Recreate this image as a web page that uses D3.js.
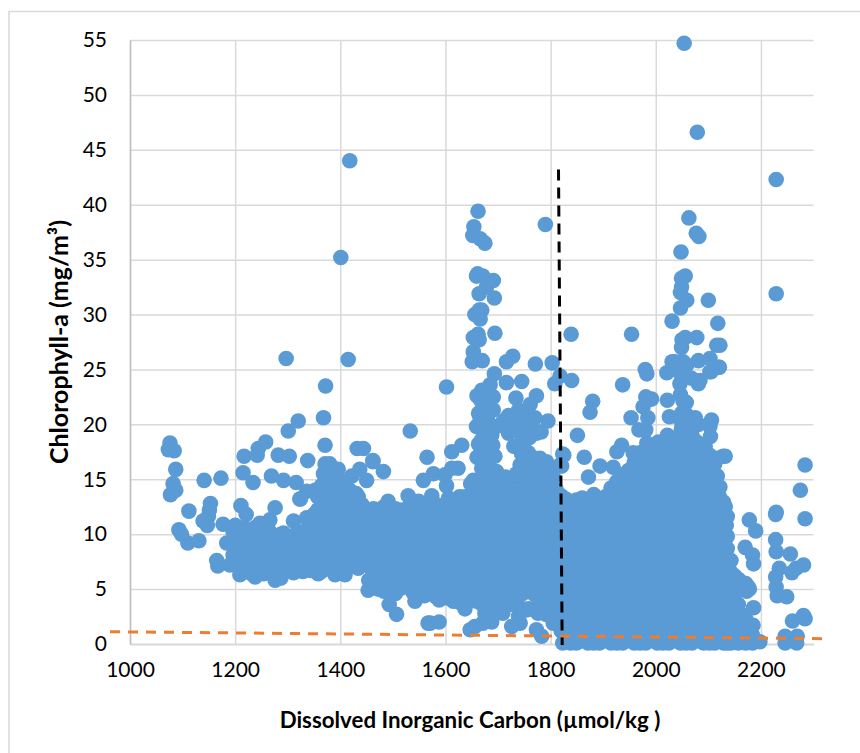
<!DOCTYPE html>
<html>
<head>
<meta charset="utf-8">
<script src="https://cdn.jsdelivr.net/npm/d3@7"></script>
<style>
  html, body { margin: 0; padding: 0; background: #fff; overflow: hidden; }
  text { font-family: Lato, "Open Sans", sans-serif; fill: #000; }
  .tick text { font-size: 21px; }
  .axis-label { font-weight: 700; }
  .grid .domain { stroke: #bfbfbf; stroke-width: 1.5; }
  .grid .tick line { stroke: #d9d9d9; stroke-width: 1.5; }
</style>
</head>
<body>
<div id="chart"></div>
<script>
// tick labels
const X_TICKS = [1000, 1200, 1400, 1600, 1800, 2000, 2200];
const Y_TICKS = [0, 5, 10, 15, 20, 25, 30, 35, 40, 45, 50, 55];

// reference lines
const TREND_LINE = [[962, 1.12], [2320, 0.48]];
const THRESHOLD_LINE = [[1815, 43.2], [1822, -0.1]];

// isolated points, upper part of the plot
const upperPoints = [
  [2054, 54.7], [2079, 46.6], [2229, 42.3], [2063, 38.8], [2077, 37.4], [2082, 37.1], [2048, 35.7],
  [2056, 33.5], [2049, 33.3], [2049, 32.5], [2047, 32], [2059, 31.3], [2047, 30.6], [2100, 31.3],
  [2229, 31.9], [2031, 29.4], [2118, 29.2], [2050, 27.7], [2056, 27.9], [2078, 27.9], [2049, 27],
  [2122, 27.2], [2116, 27.2], [2031, 25.7], [2052, 25.7], [2081, 25.8], [2103, 26], [2120, 25.2],
  [2103, 24.8], [2021, 24.7], [2046, 24.7], [2068, 24.2], [2084, 24], [1980, 25], [1983, 24.6],
  [1954, 28.2], [1839, 28.2], [1790, 38.2], [1662, 39.4], [1654, 38], [1652, 37.2], [1666, 36.9],
  [1675, 36.5], [1661, 33.7], [1659, 33.5], [1671, 33.5], [1691, 33.1], [1678, 32.5], [1664, 31.9],
  [1693, 31.5], [1664, 30.4], [1656, 30], [1666, 29.6], [1669, 30.4], [1662, 28.2], [1653, 27.9],
  [1664, 27.7], [1694, 28.3], [1653, 26.6], [1651, 25.7], [1670, 25.8], [1728, 26.2], [1716, 25.7],
  [1771, 25.5], [1803, 25.6], [1693, 24.6], [1716, 23.8], [1745, 23.9], [1818, 24.4], [1840, 24],
  [1808, 23.7], [1937, 23.6], [1602, 23.4], [1418, 44], [1401, 35.2], [1297, 26], [1415, 25.9], [1372, 23.5]
];

// sparse points, left side
const leftPoints = [
  [1368, 20.6], [1320, 20.3], [1301, 19.4], [1533, 19.4], [1371, 18.1], [1258, 18.4], [1244, 17.8],
  [1242, 17.2], [1217, 17.1], [1282, 17.2], [1303, 17.1], [1338, 16.7], [1432, 17.8], [1444, 17.8],
  [1462, 16.6], [1565, 17], [1076, 18.3], [1073, 17.7], [1084, 17.6], [1087, 15.9], [1082, 14.6],
  [1087, 14], [1077, 13.6], [1141, 14.9], [1173, 15.1], [1215, 15.6], [1234, 14.7], [1269, 15.3],
  [1292, 14.9], [1316, 14.7], [1112, 12.1], [1153, 12.8], [1151, 12.2], [1149, 11.6], [1139, 11.2],
  [1147, 10.8], [1211, 12.6], [1221, 11.8], [1276, 12.4], [1324, 13.2], [1311, 11.2], [1336, 11.5],
  [1093, 10.4], [1098, 10], [1110, 9.2], [1131, 9.4], [1177, 10.9], [1165, 7.6], [1167, 7.1],
  [1190, 7.2], [1209, 6.3], [1238, 6.1], [1254, 6.4], [1276, 5.8], [1287, 6], [1311, 6.5],
  [1358, 6.4], [1390, 6.3], [1409, 6.3], [1292, 10.1], [1314, 9.5], [1266, 11.3], [1247, 11],
  [1200, 10.8], [1184, 9.2], [1371, 16.4], [1380, 16.4], [1396, 15.9], [1462, 16.7], [1482, 15.7],
  [1450, 14.9], [1422, 15.3], [1437, 15.9], [1368, 15.5], [1352, 14], [1336, 13.9], [1418, 14],
  [1430, 13.7], [1323, 13.2], [1463, 12.3], [1491, 13], [1517, 12.2], [1529, 13.5], [1549, 13],
  [1574, 13.5], [1558, 14.9], [1577, 15.5], [1602, 14.4], [1606, 13.3], [1627, 13.4]
];

// points above the middle cloud
const middleUpperPoints = [
  [1669, 23.1], [1685, 23.6], [1667, 22.2], [1691, 22.5], [1691, 21.3], [1734, 22.4], [1773, 22.6],
  [1761, 21.8], [1739, 21.3], [1730, 20.6], [1754, 20.7], [1770, 20.6], [1795, 20.3], [1773, 19.2],
  [1666, 20.5], [1659, 19.8], [1669, 18.6], [1697, 19.8], [1720, 19.2], [1742, 20.1], [1631, 18.1],
  [1612, 17.5], [1624, 16], [1612, 16], [1599, 15.4], [1669, 17.4], [1694, 17.1], [1669, 16],
  [1697, 15.7], [1751, 18.5], [1758, 17.4], [1770, 16.9], [1792, 16.6], [1742, 16.3], [1770, 15.9],
  [1799, 15.7], [1818, 16.3], [1823, 17.3], [1653, 14.9], [1723, 14.9], [1685, 14.9], [1751, 15.3],
  [1808, 14.1], [1682, 18.2], [1676, 19.6], [1730, 18],
  [1660, 22.6], [1675, 21.8], [1663, 21], [1680, 20.4], [1688, 19], [1663, 18.2], [1690, 18.1],
  [1660, 17], [1680, 16.9], [1676, 15.8], [1690, 15.6], [1720, 20.8], [1735, 19.8], [1710, 20.3],
  [1750, 19.6], [1765, 19.8], [1782, 19.3], [1760, 18.8], [1745, 19], [1760, 16.6], [1745, 17.3],
  [1780, 15.8], [1790, 15.4], [1805, 15.2], [1760, 15.5], [1735, 15.5], [1780, 16.9]
];

// points above the right cloud
const rightUpperPoints = [
  [1981, 22.5], [1992, 22.3], [1976, 21.6], [1985, 20.6], [1953, 20.6], [1968, 19.5], [1981, 19.5],
  [1880, 22.1], [1875, 21.1], [1851, 19], [2022, 22.2], [2026, 20.7], [2022, 19], [2005, 18.4],
  [1864, 17], [1825, 17.2], [1821, 16.2], [1894, 16.2], [1919, 16.1], [1872, 15.2], [1935, 18.1],
  [1926, 17.5], [2117, 15.3], [2037, 25.7], [2059, 25.4], [2121, 25.2], [2105, 24.8], [2046, 23.7],
  [2081, 23.7], [2047, 22.7], [2052, 22.1], [2049, 21], [2075, 20.6], [2081, 20], [2106, 20.4],
  [2103, 19.8], [2104, 18.9], [2049, 19.6], [2047, 18.7], [2046, 18], [2078, 18.4], [2094, 18],
  [1983, 18.3], [1957, 17.4], [2002, 17.7], [2128, 17.1], [2117, 16.9], [2132, 17.1], [2119, 13.7]
];

// far right and lower points
const farRightPoints = [
  [2178, 11.3], [2190, 10.3], [2170, 8.8], [2184, 8.1], [2186, 7.3], [2229, 12], [2228, 11.8],
  [2284, 16.3], [2275, 14], [2284, 11.4], [2228, 9.5], [2229, 8.4], [2256, 8.2], [2281, 7.2],
  [2267, 6.9], [2259, 6.5], [2235, 6.9], [2228, 6.1], [2229, 5.2], [2231, 4.4], [2249, 4.3],
  [2186, 3.3], [2167, 2.6], [2185, 1.7], [2281, 2.6], [2284, 2.3], [2260, 2.1], [2246, 0.7],
  [2246, 0.1], [2269, 0.7], [2268, 0.1], [2198, 0.2], [2176, 5.2], [2173, 4.8], [2160, 5.7],
  [2147, 6.1], [2132, 12.5], [2134, 10.8], [2136, 8.7], [2138, 7.2], [2156, 2.8], [2166, 5.2]
];

// low points under the middle cloud
const lowerPoints = [
  [1453, 4.9], [1493, 3.6], [1507, 2.7], [1567, 1.9], [1542, 3.9], [1571, 1.9], [1588, 2],
  [1647, 1.3], [1656, 1.6], [1671, 1.9], [1688, 2], [1726, 1.6], [1742, 1.9], [1783, 0.7],
  [1773, 1.3], [1805, 1.9], [1823, 0.1], [1675, 2.8], [1709, 2.8], [1754, 3.1], [1588, 4],
  [1615, 3.9], [1637, 3.2], [1687, 3.1], [1713, 3.4], [1739, 2.5], [1776, 2.8]
];

// dense clouds: each row is one DIC value followed by its chlorophyll values
const cloudLeft = [
  [1196, 8.1, 9.2, 10.2],
  [1203, 7.8, 9, 10],
  [1210, 7.4, 8.6, 9.7],
  [1217, 7.1, 8.3, 9.4, 10.6],
  [1224, 6.7, 7.9, 9.1, 10.3],
  [1231, 6.4, 7.4, 8.6, 9.8],
  [1238, 6.8, 8.3, 9.5, 10.6],
  [1245, 6.4, 7.6, 8.9, 10.1],
  [1252, 7.2, 8.4, 9.8, 10.9],
  [1259, 6.6, 7.8, 9.1, 10.3],
  [1266, 6.7, 7.9, 9.1, 10.2],
  [1273, 6.3, 7.5, 8.8, 9.9],
  [1280, 6.9, 8.2, 9.4],
  [1287, 6.5, 7.6, 8.8, 10],
  [1294, 7.1, 8.4, 9.6],
  [1301, 6.7, 7.7, 8.9],
  [1308, 6.8, 8, 9.2],
  [1315, 7, 7.6, 8.8, 10],
  [1322, 7.2, 8.3, 9.5, 10.2],
  [1329, 6.6, 7.7, 8.9, 9.9],
  [1336, 7, 8.2, 9.4, 10.4],
  [1343, 6.7, 7.8, 9, 10.2, 11.3],
  [1350, 7.2, 8.4, 9.6, 10.7, 11.8],
  [1357, 7.5, 8.6, 9.8, 11, 12.2, 13.4],
  [1364, 6.6, 7.9, 9.2, 10.5, 11.8, 13.1, 14.4],
  [1371, 7, 8.3, 9.6, 10.9, 12.2, 13.5, 14.8],
  [1378, 7.4, 8.7, 10, 11.3, 12.6, 13.9, 15.2],
  [1385, 6.7, 8, 9.4, 10.7, 12, 13.2, 14.5],
  [1392, 6.4, 7.7, 9, 10.3, 11.6, 12.9, 14.2, 15.1],
  [1399, 7.1, 8.4, 9.7, 11, 12.3, 13.6, 14.9],
  [1406, 6.5, 8.1, 9.4, 10.7, 12, 13.3, 14.6],
  [1413, 6.9, 8.2, 9.5, 10.8, 12.1, 13.4, 14.2],
  [1420, 7.3, 8.6, 9.9, 11.2, 12.5, 13.8],
  [1427, 7.6, 8.9, 10.2, 11.5, 12.8],
  [1434, 6.9, 8.2, 9.5, 10.8, 12.1, 13.4],
  [1441, 7.5, 8.8, 10.1, 11.4, 12.7],
  [1448, 7.2, 8.5, 9.8, 11.1, 12.2],
  [1454, 5.8, 7.4, 8.8, 10, 11.3],
  [1460, 6.8, 8.1, 9.4, 10.6, 11.7],
  [1466, 5.6, 7.4, 8.8, 10, 11.2, 12.2]
];

const cloudMiddle = [
  [1472, 5, 6.1, 7.3, 8.4, 9.6, 10.8, 11.9],
  [1483, 4.8, 5.8, 7, 8.2, 9.3, 10.5, 11.6, 12.5],
  [1494, 5.5, 6.7, 7.8, 9, 10.2, 11.3, 12.4],
  [1505, 4.6, 5.7, 6.8, 8, 9.1, 10.3, 11.5, 12.3],
  [1516, 5.1, 6.2, 7.4, 8.6, 9.7, 10.9, 12],
  [1527, 5.4, 6.6, 7.7, 8.9, 10, 11.2, 12.3],
  [1538, 4.7, 5.7, 6.9, 8, 9.2, 10.3, 11.5, 12.4],
  [1549, 5, 6.2, 7.3, 8.5, 9.7, 10.8, 12],
  [1560, 4.4, 5.3, 6.4, 7.6, 8.8, 9.9, 11.1, 12.2],
  [1571, 4.7, 5.8, 7, 8.2, 9.3, 10.5, 11.7, 12.4],
  [1582, 4.3, 5.9, 7, 8.1, 9.3, 10.5, 11.6, 12.7],
  [1593, 4.6, 5.6, 6.8, 7.9, 9.1, 10.3, 11.4, 12.6],
  [1604, 4.2, 5.3, 6.5, 7.6, 8.8, 10, 11.1, 12.3],
  [1615, 4.4, 5.6, 6.8, 8, 9.1, 10.3, 11.4, 12.6],
  [1626, 3.8, 5, 6.1, 7.2, 8.4, 9.5, 10.7, 11.9, 13],
  [1637, 4.2, 5.3, 6.5, 7.6, 8.8, 9.9, 11.1, 12.3, 13.4],
  [1648, 4.3, 5.5, 6.7, 7.8, 9, 10.1, 11.3, 12.5, 13.6, 14.6],
  [1659, 3.9, 5.1, 6.2, 7.4, 8.6, 9.7, 10.9, 12, 13.2, 14.4],
  [1670, 3.6, 4.9, 6.1, 7.2, 8.4, 9.6, 10.7, 11.9, 13.1, 14.2, 15.3],
  [1681, 3.7, 4.8, 6, 7.1, 8.3, 9.5, 10.6, 11.8, 13, 14.1, 15.3, 16.4],
  [1692, 4.2, 5.4, 6.6, 7.7, 8.9, 10.1, 11.2, 12.4, 13.6, 14.7],
  [1703, 3.8, 5, 6.1, 7.3, 8.5, 9.6, 10.8, 12, 13.1, 14.3],
  [1714, 3.7, 4.9, 6, 7.2, 8.3, 9.5, 10.7, 11.8, 13, 14.1, 15.2],
  [1725, 3.6, 4.8, 6, 7.1, 8.3, 9.5, 10.6, 11.8, 12.9, 14.1],
  [1736, 4.3, 5.5, 6.6, 7.8, 9, 10.1, 11.3, 12.5, 13.6],
  [1747, 3.2, 4.6, 5.8, 6.9, 8.1, 9.3, 10.4, 11.6, 12.7, 13.9, 15],
  [1758, 3.2, 4.8, 6, 7.1, 8.3, 9.5, 10.6, 11.8, 12.9, 14],
  [1769, 3.1, 4.5, 5.7, 6.8, 8, 9.2, 10.3, 11.5, 12.6, 13.8, 14.8],
  [1780, 3.7, 5.4, 6.6, 7.7, 8.9, 10, 11.2, 12.4, 13.5],
  [1791, 2.7, 4.2, 5.3, 6.5, 7.7, 8.8, 10, 11.1, 12.3, 13.5, 14.4],
  [1802, 3, 4.8, 6, 7.1, 8.3, 9.4, 10.6, 11.8, 12.9, 14.1],
  [1811, 2.2, 3.8, 4.9, 6, 7.2, 8.4, 9.5, 10.7, 11.8, 13, 14],
  [1820, 1.2, 2.4, 3.6, 5.4, 6.6, 7.7, 8.9, 10.1, 11.2, 12.4, 13.5],
  [1829, 0.5, 1.7, 3, 4.2, 5.4, 6.5, 7.7, 8.8, 10, 11.2, 12.3, 13.2]
];

const cloudRight = [
  [1838, 0.1, 1.2, 2.4, 3.6, 4.7, 5.9, 7, 8.2, 9.4, 10.5, 11.7, 12.8],
  [1849, 0.1, 1.5, 2.7, 3.8, 5, 6.2, 7.3, 8.5, 9.6, 10.8, 12, 13.1],
  [1860, 0.6, 1.8, 3, 4.1, 5.3, 6.5, 7.6, 8.8, 9.9, 11.1, 12.3, 13.3],
  [1871, 0.1, 1.4, 2.6, 3.7, 4.9, 6, 7.2, 8.4, 9.5, 10.7, 11.8, 13],
  [1882, 0.1, 1.2, 2.4, 3.5, 4.7, 5.9, 7, 8.2, 9.3, 10.5, 11.7, 12.8, 13.6],
  [1893, 0.1, 1.5, 2.6, 3.8, 5, 6.1, 7.3, 8.4, 9.6, 10.8, 11.9, 13.1],
  [1904, 0.7, 1.8, 3, 4.2, 5.3, 6.5, 7.6, 8.8, 10, 11.1, 12.3, 13.4],
  [1915, 0.1, 1.4, 2.6, 3.7, 4.9, 6, 7.2, 8.4, 9.5, 10.7, 11.8, 13, 14.2],
  [1926, 0.1, 1.2, 2.4, 3.6, 4.7, 5.9, 7, 8.2, 9.4, 10.5, 11.7, 12.8, 14, 14.8],
  [1937, 0.1, 1.5, 2.7, 3.8, 5, 6.2, 7.3, 8.5, 9.6, 10.8, 12, 13.1, 14.3, 15.4],
  [1948, 0.7, 1.8, 3, 4.1, 5.3, 6.5, 7.6, 8.8, 9.9, 11.1, 12.3, 13.4, 14.6, 15.8],
  [1959, 0.1, 1.4, 2.6, 3.7, 4.9, 6, 7.2, 8.4, 9.5, 10.7, 11.8, 13, 14.2, 15.3, 16.5],
  [1970, 0.1, 1.2, 2.4, 3.5, 4.7, 5.9, 7, 8.2, 9.4, 10.5, 11.7, 12.8, 14, 15.2, 16.4, 17.4],
  [1981, 0.1, 1.5, 2.6, 3.8, 5, 6.1, 7.3, 8.4, 9.6, 10.8, 11.9, 13.1, 14.3, 15.4, 16.6, 17.7],
  [1992, 0.7, 1.8, 3, 4.2, 5.3, 6.5, 7.6, 8.8, 9.9, 11.1, 12.3, 13.4, 14.6, 15.7, 16.9, 17.8],
  [2003, 0.1, 1.4, 2.6, 3.7, 4.9, 6, 7.2, 8.4, 9.5, 10.7, 11.8, 13, 14.2, 15.3, 16.5, 17.4],
  [2014, 0.1, 1.2, 2.4, 3.6, 4.7, 5.9, 7, 8.2, 9.3, 10.5, 11.7, 12.8, 14, 15.1, 16.3, 17.6],
  [2025, 0.1, 1.5, 2.7, 3.8, 5, 6.2, 7.3, 8.5, 9.6, 10.8, 12, 13.1, 14.3, 15.4, 16.6, 17.7],
  [2036, 0.7, 1.8, 3, 4.1, 5.3, 6.5, 7.6, 8.8, 10, 11.1, 12.3, 13.4, 14.6, 15.8, 16.9, 18.1],
  [2047, 0.1, 1.4, 2.6, 3.7, 4.9, 6, 7.2, 8.4, 9.5, 10.7, 11.8, 13, 14.2, 15.3, 16.5, 17.6, 19.2, 20.4],
  [2058, 0.1, 1.2, 2.4, 3.5, 4.7, 5.9, 7, 8.2, 9.4, 10.5, 11.7, 12.8, 14, 15.2, 16.3, 17.5, 18.7, 19.8, 20.9, 22],
  [2069, 0.1, 1.5, 2.6, 3.8, 5, 6.1, 7.3, 8.4, 9.6, 10.8, 11.9, 13.1, 14.3, 15.4, 16.6, 17.8, 19],
  [2080, 0.7, 1.8, 3, 4.2, 5.3, 6.5, 7.6, 8.8, 9.9, 11.1, 12.3, 13.4, 14.6, 15.7, 16.9, 17.9],
  [2091, 0.1, 1.4, 2.6, 3.7, 4.9, 6, 7.2, 8.4, 9.5, 10.7, 11.8, 13, 14.2, 15.3, 16.5, 17.3],
  [2102, 0.1, 1.2, 2.4, 3.6, 4.7, 5.9, 7, 8.2, 9.3, 10.5, 11.7, 12.8, 14, 15.1, 16.3, 17.2],
  [2112, 0.1, 1.5, 2.7, 3.8, 5, 6.2, 7.3, 8.5, 9.6, 10.8, 12, 13.1, 14.3, 15.5, 16.4],
  [2122, 0.7, 1.8, 3, 4.1, 5.3, 6.5, 7.6, 8.8, 10, 11.1, 12.3, 13.3, 14.3],
  [2129, 0.1, 1.4, 2.6, 3.7, 4.9, 6, 7.2, 8.4, 9.5, 10.7, 11.8, 12.9],
  [2136, 0.1, 1.2, 2.4, 3.5, 4.6, 5.8, 7.9, 9.8, 11.6],
  [2143, 0.1, 1.8, 3, 4.1, 5.2, 6.5, 7.6],
  [2150, 0.6, 1.6, 2.6, 3.6, 4.5, 5.5, 6.2],
  [2157, 0.1, 1.2, 2.2, 3.6, 4.9, 5.9],
  [2164, 0.2, 1.2, 2.2, 5.6],
  [2171, 0.1, 1.4, 2.3, 5.5],
  [2178, 0.2, 1.2, 5],
  [2184, 0.1, 0.8],
  [2190, 0.3]
];

// expand the dense rows into points
function expandRows(rows) {
  return rows.flatMap(([dic, ...values]) => values.map((chl) => [dic, chl]));
}

function drawChart() {
  const outerWidth = 860;
  const outerHeight = 753;
  const margin = { top: 40, right: 46.5, bottom: 109, left: 130 };
  const width = outerWidth - margin.left - margin.right;
  const height = outerHeight - margin.top - margin.bottom;

  const points = [
    ...expandRows(cloudLeft),
    ...expandRows(cloudMiddle),
    ...expandRows(cloudRight),
    ...upperPoints,
    ...leftPoints,
    ...middleUpperPoints,
    ...rightUpperPoints,
    ...farRightPoints,
    ...lowerPoints,
  ];

  const svg = d3
    .select("#chart")
    .append("svg")
    .attr("width", outerWidth)
    .attr("height", outerHeight)
    .attr("role", "img")
    .attr("aria-label", "Chlorophyll-a against dissolved inorganic carbon");

  // outer frame
  svg
    .append("rect")
    .attr("x", 9)
    .attr("y", 11.5)
    .attr("width", outerWidth)
    .attr("height", outerHeight)
    .attr("fill", "#fff")
    .attr("stroke", "#d9d9d9")
    .attr("stroke-width", 1.5);

  const chart = svg.append("g").attr("transform", `translate(${margin.left}, ${margin.top})`);

  // create scales
  const xScale = d3.scaleLinear().domain([1000, 2300]).range([0, width]);
  const yScale = d3.scaleLinear().domain([0, 55]).range([height, 0]);

  // axis and grid
  const xAxis = chart
    .append("g")
    .attr("class", "grid")
    .attr("transform", `translate(0, ${height})`)
    .call(d3.axisBottom(xScale).tickValues(X_TICKS).tickSize(-height).tickSizeOuter(0).tickPadding(18).tickFormat(d3.format("d")));

  const yAxis = chart
    .append("g")
    .attr("class", "grid")
    .call(d3.axisLeft(yScale).tickValues(Y_TICKS).tickSize(-width).tickSizeOuter(0).tickPadding(23).tickFormat(d3.format("d")));

  xAxis.select(".domain").raise();
  yAxis.select(".domain").raise();

  // points
  chart
    .append("g")
    .selectAll("circle")
    .data(points)
    .enter()
    .append("circle")
    .attr("cx", (d) => xScale(d[0]))
    .attr("cy", (d) => yScale(d[1]))
    .attr("r", 7.8)
    .attr("fill", "#5b9bd5");

  const line = d3
    .line()
    .x((d) => xScale(d[0]))
    .y((d) => yScale(d[1]));

  // trend line
  chart
    .append("path")
    .attr("d", line(TREND_LINE))
    .attr("fill", "none")
    .attr("stroke", "#ed7d31")
    .attr("stroke-width", 3)
    .attr("stroke-dasharray", "10 8");

  // threshold line
  chart
    .append("path")
    .attr("d", line(THRESHOLD_LINE))
    .attr("fill", "none")
    .attr("stroke", "#000")
    .attr("stroke-width", 3)
    .attr("stroke-dasharray", "11 7");

  // axis labels
  svg
    .append("text")
    .attr("class", "axis-label")
    .attr("x", 470)
    .attr("y", 728)
    .attr("text-anchor", "middle")
    .attr("font-size", 22.3)
    .text("Dissolved Inorganic Carbon (µmol/kg )");

  svg
    .append("text")
    .attr("class", "axis-label")
    .attr("x", -342)
    .attr("y", 68)
    .attr("text-anchor", "middle")
    .attr("font-size", 25)
    .attr("transform", "rotate(-90)")
    .text("Chlorophyll-a (mg/m³)");
}

drawChart();
</script>
</body>
</html>
